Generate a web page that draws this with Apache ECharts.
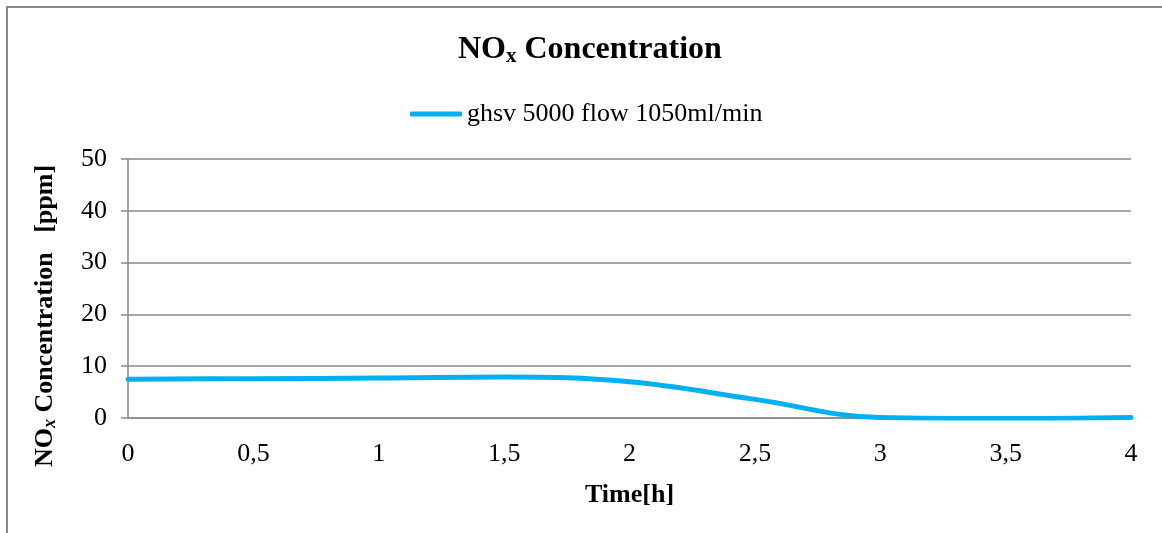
<!DOCTYPE html>
<html style="height:100%">
<head>
    <meta charset="utf-8">
    <script type="text/javascript" src="https://cdn.jsdelivr.net/npm/echarts@6/dist/echarts.min.js"></script>
    <title>NOx Concentration</title>
</head>
<body style="height: 100%; margin: 0; background: #fff">
    <div id="container" style="width:1162px;height:533px"></div>
    <script type="text/javascript">
    var myChart = echarts.init(document.getElementById('container'));

    // time [h] and NOx [ppm]
    const timeH = [0, 0.5, 1, 1.5, 2, 2.5, 3, 3.5, 4];
    const noxPpm = [7.5, 7.6, 7.7, 7.9, 7.0, 3.6, 0.1, -0.1, 0.1];
    const seriesName = 'ghsv 5000 flow 1050ml/min';

    const serif = '"Liberation Serif", "Times New Roman", serif';

    var option = {
        animation: false,
        backgroundColor: '#fff',
        graphic: [{
            // outer chart frame (only top and left edge are in view)
            type: 'rect',
            shape: { x: 7, y: 7, width: 1300, height: 700 },
            style: { fill: 'none', stroke: '#898989', lineWidth: 2 }
        }, {
            // y axis title, sits a bit lower than the plot centre
            type: 'text',
            x: 45, y: 316,
            rotation: Math.PI / 2,
            style: {
                text: '{a|NO}{b|x}{a| Concentration   [ppm]}',
                align: 'center',
                verticalAlign: 'middle',
                rich: {
                    a: { fontFamily: serif, fontSize: 26, fontWeight: 'bold', fill: '#000' },
                    b: { fontFamily: serif, fontSize: 18, fontWeight: 'bold', fontStyle: 'italic', fill: '#000', padding: [11, 0, 0, 0] }
                }
            }
        }],
        title: {
            text: '{a|NO}{b|x}{a| Concentration}',
            left: 458,
            top: 32,
            padding: 0,
            textStyle: {
                rich: {
                    a: { fontFamily: serif, fontSize: 32, fontWeight: 'bold', color: '#000' },
                    b: { fontFamily: serif, fontSize: 21, fontWeight: 'bold', color: '#000', padding: [14, 0, 0, 0] }
                }
            }
        },
        legend: {
            top: 101,
            left: 410,
            padding: 0,
            itemWidth: 52,
            itemHeight: 5,
            icon: 'roundRect',
            textStyle: { fontFamily: serif, fontSize: 26, color: '#000' },
            data: [seriesName]
        },
        grid: { left: 128, right: 31, top: 159, bottom: 115 },
        xAxis: {
            type: 'value',
            min: 0, max: 4, interval: 0.5,
            name: 'Time[h]',
            nameLocation: 'middle',
            nameGap: 64,
            nameTextStyle: { fontFamily: serif, fontSize: 26, fontWeight: 'bold', color: '#000' },
            axisLine: { show: true, lineStyle: { color: '#898989', width: 1.5 } },
            axisTick: { show: false },
            splitLine: { show: false },
            axisLabel: {
                fontFamily: serif, fontSize: 26, color: '#000', margin: 23,
                formatter: function(v) { return String(v).replace('.', ','); }
            }
        },
        yAxis: {
            type: 'value',
            min: 0, max: 50, interval: 10,
            axisLine: { show: true, lineStyle: { color: '#898989', width: 1.5 } },
            axisTick: { show: true, inside: false, length: 7, lineStyle: { color: '#898989', width: 1.5 } },
            splitLine: { show: true, lineStyle: { color: '#898989', width: 1.5 } },
            axisLabel: { fontFamily: serif, fontSize: 26, color: '#000', margin: 21 }
        },
        series: [{
            name: seriesName,
            type: 'line',
            smooth: 0.4,
            symbol: 'none',
            data: timeH.map(function(t, i) { return [t, noxPpm[i]]; }),
            itemStyle: { color: '#00B0F0' },
            lineStyle: { color: '#00B0F0', width: 5, cap: 'round' }
        }]
    };

    myChart.setOption(option);
    </script>
</body>
</html>
